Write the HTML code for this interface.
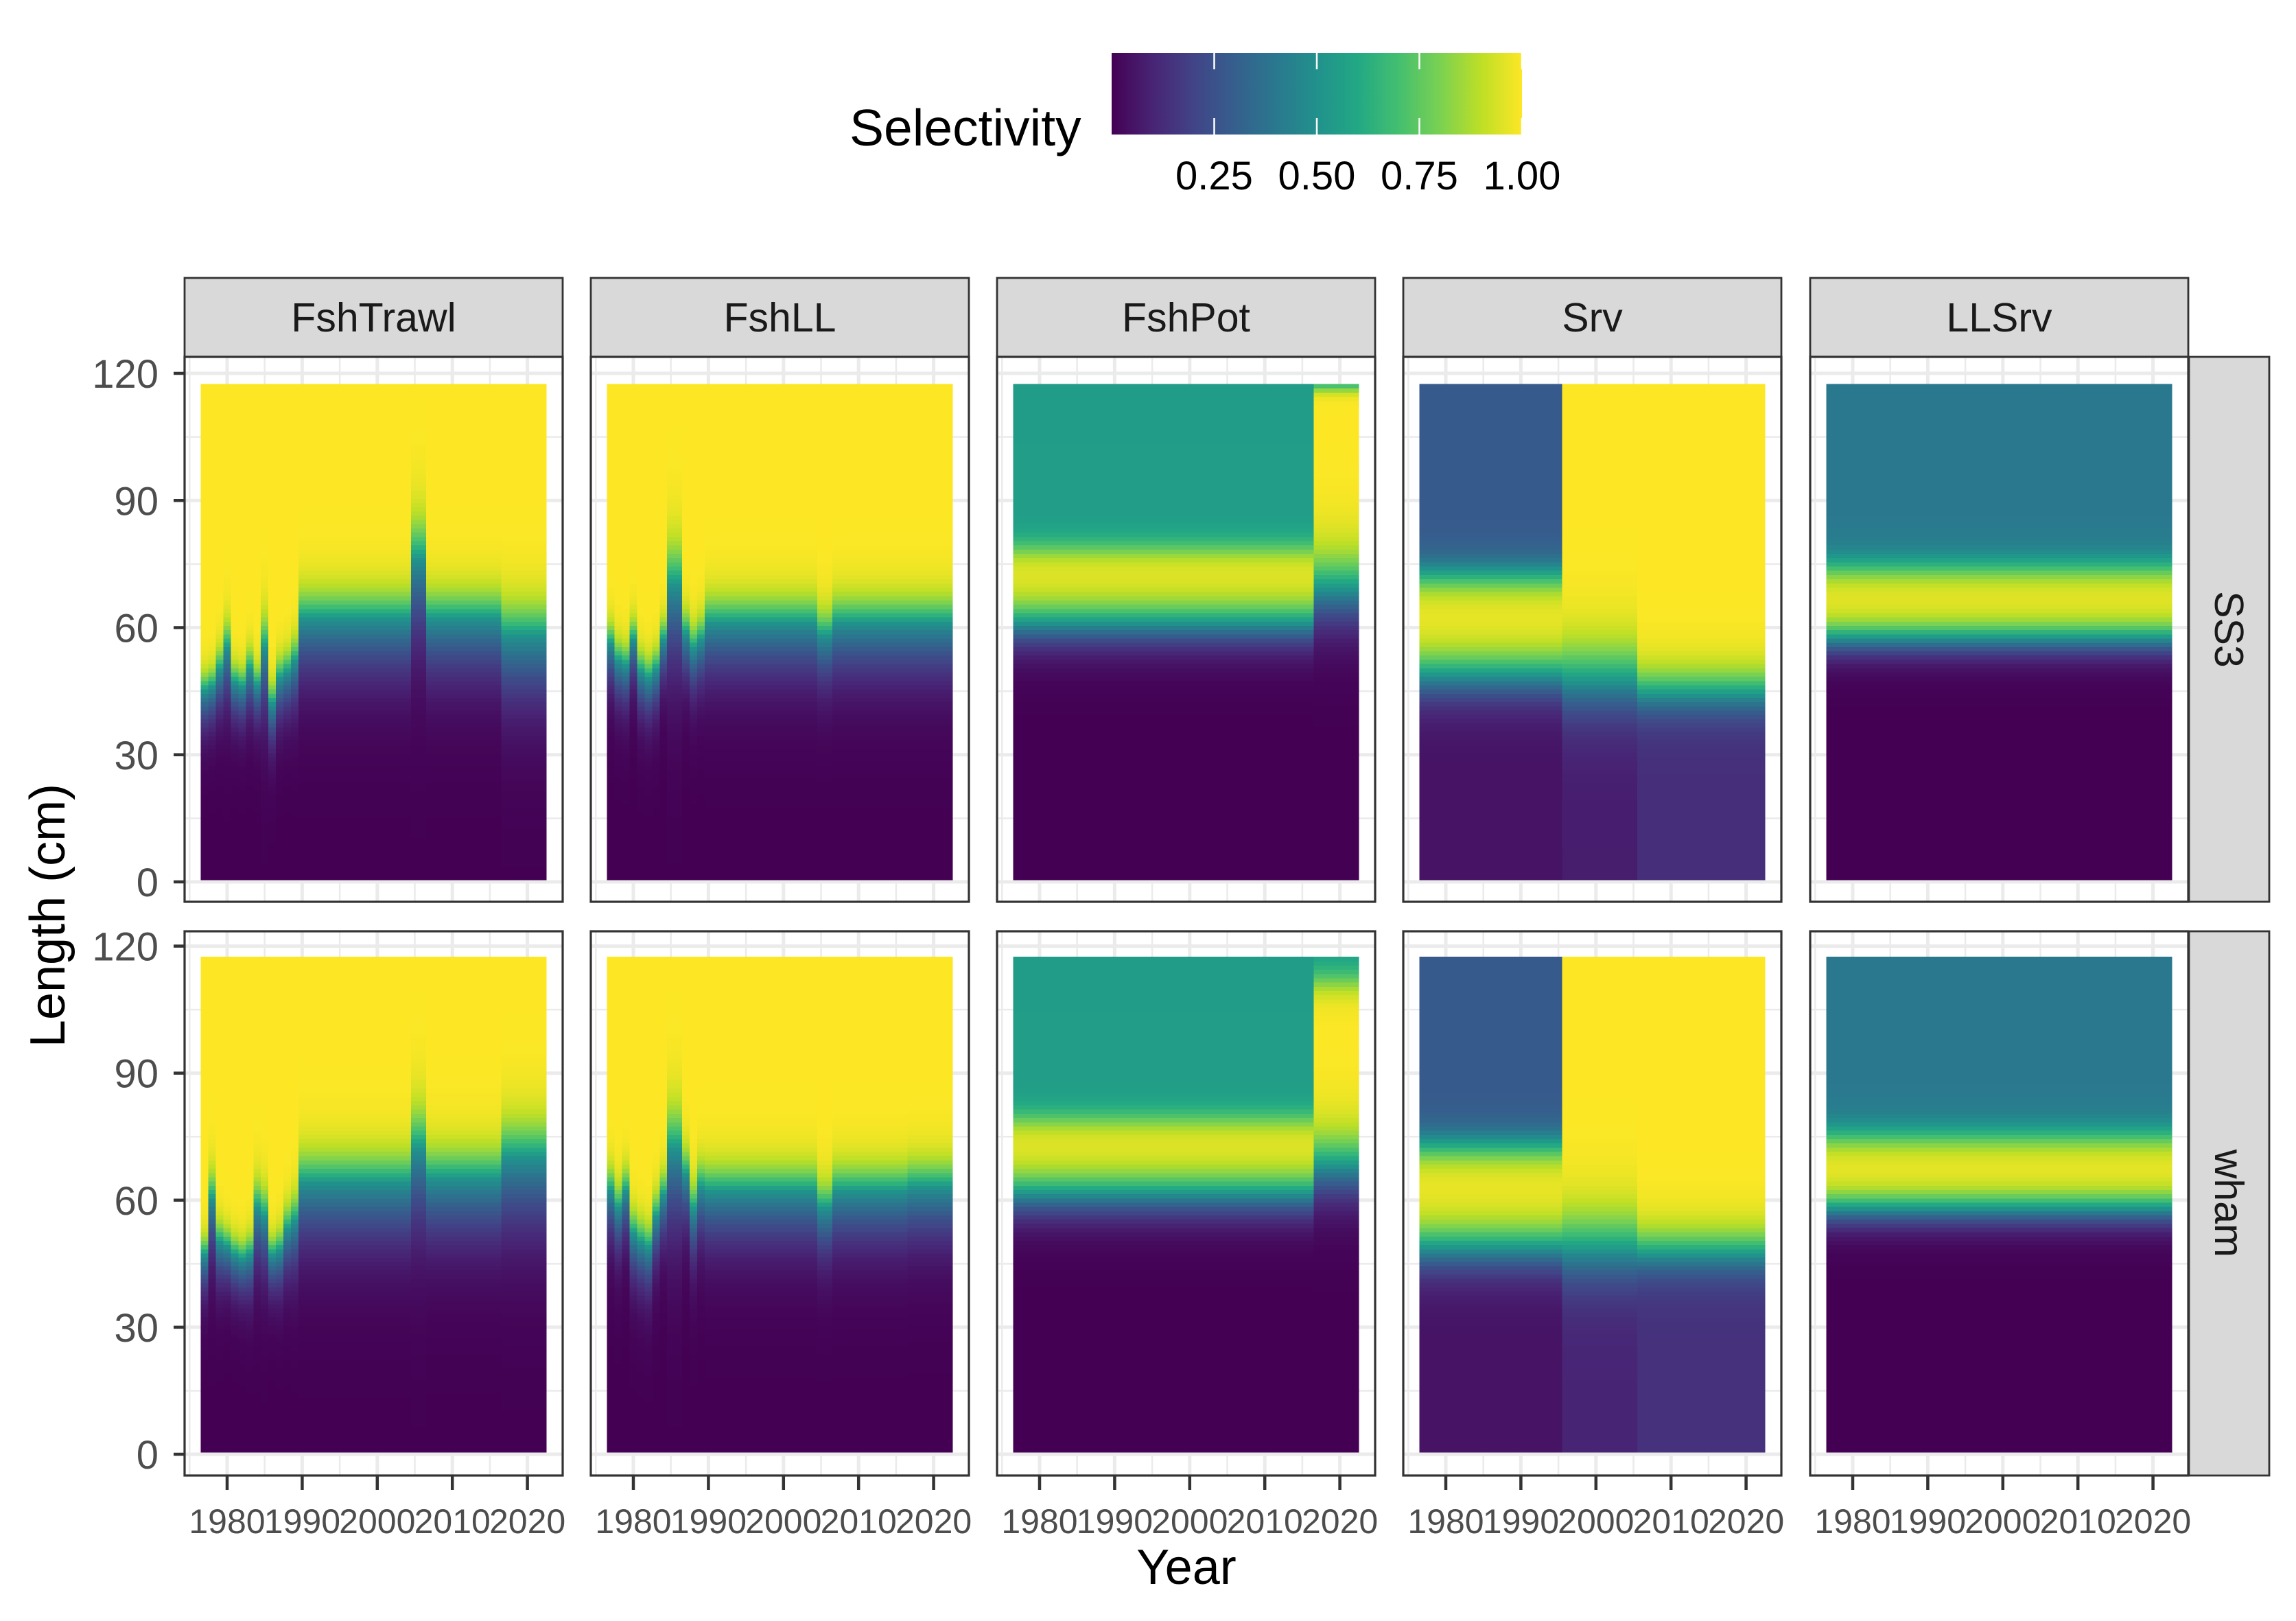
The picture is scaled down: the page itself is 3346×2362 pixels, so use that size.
<!DOCTYPE html>
<html><head><meta charset="utf-8"><title>Selectivity heatmaps</title>
<style>
html,body{margin:0;padding:0;background:#fff;}
svg{display:block;font-family:"Liberation Sans",Arial,sans-serif;}
</style></head>
<body>
<svg id="chart" xmlns="http://www.w3.org/2000/svg" width="3346" height="2362" viewBox="0 0 3346 2362">
<rect x="0" y="0" width="3346" height="2362" fill="#fff"/>
<defs>
<linearGradient id="vir" x1="0" x2="1" y1="0" y2="0">
<stop offset="0" stop-color="#440154"/><stop offset="0.1" stop-color="#482475"/><stop offset="0.2" stop-color="#414487"/><stop offset="0.3" stop-color="#355f8d"/><stop offset="0.4" stop-color="#2a788e"/><stop offset="0.5" stop-color="#21918c"/><stop offset="0.6" stop-color="#22a884"/><stop offset="0.7" stop-color="#44bf70"/><stop offset="0.8" stop-color="#7ad151"/><stop offset="0.9" stop-color="#bddf26"/><stop offset="1" stop-color="#fde725"/>
</linearGradient>
</defs>
<g>
<text x="1238" y="212" font-size="75" fill="#000">Selectivity</text>
<rect x="1620" y="77" width="598" height="119" fill="url(#vir)"/>
<g id="legendTicks"></g>
</g>
<g id="panels"></g>
<text x="1729" y="2308" font-size="72" text-anchor="middle" fill="#000">Year</text>
<text x="0" y="0" font-size="72" text-anchor="middle" fill="#000" transform="translate(94,1334) rotate(-90)">Length (cm)</text>
</svg>
<script>
// ---------- data (block start years and per-block selectivity parameters) ----------
const years = [1977, 2022];
const lengthBins = [1, 117];
const facetCols = ["FshTrawl", "FshLL", "FshPot", "Srv", "LLSrv"];
const facetRows = ["SS3", "wham"];
const xTicks = [1980, 1990, 2000, 2010, 2020];
const yTicks = [0, 30, 60, 90, 120];
const legendTicks = [0.25, 0.5, 0.75, 1.0];
const legendLabels = ["0.25", "0.50", "0.75", "1.00"];
// ratio of upper-limb to lower-limb steepness for fishery logistic curves
const fisheryUpperSteepness = [1.9];

// FshTrawl SS3
const trawlSS3_start = [1977,1978,1979,1980,1981,1982,1983,1984,1985,1986,1987,1988,1989,1990,2005,2007,2017];
const trawlSS3_a50 = [45,46,50,55,47,46,50,46.5,55,42,48,49.5,52,62,76,62,58];
const trawlSS3_k = [0.22,0.22,0.2,0.16,0.22,0.22,0.2,0.22,0.13,0.2,0.2,0.2,0.18,0.14,0.1,0.14,0.12];
// FshTrawl wham
const trawlWham_start = [1977,1978,1979,1980,1981,1982,1983,1984,1985,1986,1987,1988,1989,1990,2005,2007,2017];
const trawlWham_a50 = [47,60,50,49,47,46,47,58,56,47,48,53,55,64,72,65,70];
const trawlWham_k = [0.22,0.15,0.2,0.22,0.22,0.22,0.2,0.15,0.15,0.22,0.2,0.18,0.16,0.13,0.1,0.13,0.11];
// FshLL SS3
const llSS3_start = [1977,1978,1979,1980,1981,1982,1983,1984,1985,1987,1988,1989,1990,2005,2007];
const llSS3_a50 = [56,52,51,57,49.5,48,50,57,70,58.5,55,57,61,58,61];
const llSS3_k = [0.2,0.2,0.2,0.2,0.2,0.2,0.2,0.2,0.1,0.18,0.18,0.18,0.15,0.16,0.15];
// FshLL wham
const llWham_start = [1977,1978,1979,1980,1981,1982,1983,1984,1985,1987,1988,1989,1990,2005,2007,2017];
const llWham_a50 = [62,58,62,52,50,48.7,56,61,72,66,57.7,63,62,58,62,63];
const llWham_k = [0.18,0.18,0.18,0.18,0.18,0.18,0.18,0.18,0.1,0.16,0.16,0.16,0.15,0.16,0.15,0.15];
// FshPot
const potSS3_start = [1977, 2017];
const potSS3_a50 = [61, 69];
const potSS3_k = [0.3, 0.2];
const potSS3_d50 = [78.5, 116.5];
const potSS3_dk = [0.5, 1.2];
const potSS3_fin = [0.55, 0.55];
const potWham_start = [1977, 2017];
const potWham_a50 = [61.5, 68];
const potWham_k = [0.3, 0.22];
const potWham_d50 = [79, 112];
const potWham_dk = [0.5, 0.45];
const potWham_fin = [0.55, 0.55];
// Srv
const srvSS3_start = [1977, 1996, 2006];
const srvSS3_a50 = [49, 48, 45];
const srvSS3_k = [0.28, 0.2, 0.3];
const srvSS3_d50 = [72, 999, 999];
const srvSS3_dk = [0.4, 0.4, 0.4];
const srvSS3_fin = [0.28, 1, 1];
const srvSS3_floor = [0.05, 0.08, 0.13];
const srvWham_start = [1977, 1996, 2006];
const srvWham_a50 = [49, 49, 48];
const srvWham_k = [0.28, 0.2, 0.3];
const srvWham_d50 = [72.5, 999, 999];
const srvWham_dk = [0.4, 0.4, 0.4];
const srvWham_fin = [0.28, 1, 1];
const srvWham_floor = [0.05, 0.1, 0.14];
// LLSrv
const llsrvSS3_start = [1977];
const llsrvSS3_a50 = [57.5];
const llsrvSS3_k = [0.4];
const llsrvSS3_d50 = [74];
const llsrvSS3_dk = [0.45];
const llsrvSS3_fin = [0.4];
const llsrvWham_start = [1977];
const llsrvWham_a50 = [58];
const llsrvWham_k = [0.4];
const llsrvWham_d50 = [75];
const llsrvWham_dk = [0.45];
const llsrvWham_fin = [0.4];

// ---------- layout ----------
const NS = "http://www.w3.org/2000/svg";
const panelLefts = [269, 861, 1453, 2045, 2638];
const panelW = 551;
const rowTop = [520, 1357], rowBot = [1314, 2150];
const yZero = [1285, 2119], yPx = [6.175, 6.17];
const stripTop = 405;
const viridis = ["#440154","#482475","#414487","#355f8d","#2a788e","#21918c","#22a884","#44bf70","#7ad151","#bddf26","#fde725"];

function hex(c){return [parseInt(c.substr(1,2),16),parseInt(c.substr(3,2),16),parseInt(c.substr(5,2),16)];}
const virRGB = viridis.map(hex);
function color(v){
  v = Math.max(0, Math.min(1, v));
  const p = v*10, i = Math.min(9, Math.floor(p)), f = p - i;
  const a = virRGB[i], b = virRGB[i+1];
  return "rgb(" + [0,1,2].map(j => Math.round(a[j] + (b[j]-a[j])*f)).join(",") + ")";
}
function xScale(col, yr){ return panelLefts[col] + 62 + (yr - 1980) * 10.94; }
function yScale(row, cm){ return yZero[row] - yPx[row] * cm; }
function sel(L, p){
  const k = (L > p.a50) ? p.k * p.up : p.k;
  const asc = p.floor + (1 - p.floor) / (1 + Math.exp(-k * (L - p.a50)));
  const desc = p.fin + (1 - p.fin) / (1 + Math.exp(p.dk * (L - p.d50)));
  return asc * desc;
}
function mk(tag, attrs, parent){
  const el = document.createElementNS(NS, tag);
  for (const k in attrs) el.setAttribute(k, attrs[k]);
  parent.appendChild(el);
  return el;
}
function pick(arr, i, def){ return arr ? arr[i] : def; }

const panelData = [
  [{s:trawlSS3_start,a:trawlSS3_a50,k:trawlSS3_k,up:fisheryUpperSteepness[0]},{s:trawlWham_start,a:trawlWham_a50,k:trawlWham_k,up:fisheryUpperSteepness[0]}],
  [{s:llSS3_start,a:llSS3_a50,k:llSS3_k,up:fisheryUpperSteepness[0]},{s:llWham_start,a:llWham_a50,k:llWham_k,up:fisheryUpperSteepness[0]}],
  [{s:potSS3_start,a:potSS3_a50,k:potSS3_k,d:potSS3_d50,dk:potSS3_dk,f:potSS3_fin},{s:potWham_start,a:potWham_a50,k:potWham_k,d:potWham_d50,dk:potWham_dk,f:potWham_fin}],
  [{s:srvSS3_start,a:srvSS3_a50,k:srvSS3_k,d:srvSS3_d50,dk:srvSS3_dk,f:srvSS3_fin,fl:srvSS3_floor},{s:srvWham_start,a:srvWham_a50,k:srvWham_k,d:srvWham_d50,dk:srvWham_dk,f:srvWham_fin,fl:srvWham_floor}],
  [{s:llsrvSS3_start,a:llsrvSS3_a50,k:llsrvSS3_k,d:llsrvSS3_d50,dk:llsrvSS3_dk,f:llsrvSS3_fin},{s:llsrvWham_start,a:llsrvWham_a50,k:llsrvWham_k,d:llsrvWham_d50,dk:llsrvWham_dk,f:llsrvWham_fin}]
];

const root = document.getElementById("panels");

// legend ticks
const lt = document.getElementById("legendTicks");
legendTicks.forEach((v, i) => {
  const x = 1620 + v * 598;
  const t1 = mk("line", {x1:x, x2:x, y1:77, y2:101, stroke:"#fff", "stroke-width":2.5}, lt);
  
  
  const t2 = mk("line", {x1:x, x2:x, y1:172, y2:196, stroke:"#fff", "stroke-width":2.5}, lt);
  
  
  const tx = mk("text", {x: Math.min(x, 2218), y: 276, "font-size": 58, "text-anchor": "middle", fill: "#000"}, lt);
  tx.textContent = legendLabels[i];
  
  
});

for (let c = 0; c < 5; c++) {
  const L = panelLefts[c];
  const st = mk("rect", {x:L, y:stripTop, width:panelW, height:rowTop[0]-stripTop, fill:"#d9d9d9", stroke:"#333", "stroke-width":2.8}, root);
  
  
  const stt = mk("text", {x:L+panelW/2, y:483, "font-size":59, "text-anchor":"middle", fill:"#1a1a1a"}, root);
  stt.textContent = facetCols[c];
  
  

  for (let r = 0; r < 2; r++) {
    const g = mk("g", {}, root);
    
    
    const T = rowTop[r], B = rowBot[r];
    const bg = mk("rect", {x:L, y:T, width:panelW, height:B-T, fill:"#fff"}, g);
    
    
    for (let yr = 1975; yr <= 2025; yr += 10) {
      const x = xScale(c, yr);
      if (x < L || x > L + panelW) continue;
      const gl = mk("line", {x1:x, x2:x, y1:T, y2:B, stroke:"#ebebeb", "stroke-width":2.5}, g);
      
      
    }
    for (let cm = 15; cm <= 105; cm += 30) {
      const y = yScale(r, cm);
      const gl = mk("line", {x1:L, x2:L+panelW, y1:y, y2:y, stroke:"#ebebeb", "stroke-width":2.5}, g);
      
      
    }
    xTicks.forEach(yr => {
      const x = xScale(c, yr);
      const gl = mk("line", {x1:x, x2:x, y1:T, y2:B, stroke:"#ebebeb", "stroke-width":5}, g);
      
      
    });
    yTicks.forEach(cm => {
      const y = yScale(r, cm);
      const gl = mk("line", {x1:L, x2:L+panelW, y1:y, y2:y, stroke:"#ebebeb", "stroke-width":5}, g);
      
      
    });
    const d = panelData[c][r];
    const tiles = mk("g", {"shape-rendering":"crispEdges"}, g);
    
    
    for (let b = 0; b < d.s.length; b++) {
      const y0 = d.s[b];
      const y1 = (b + 1 < d.s.length) ? d.s[b+1] - 1 : years[1];
      const p = {a50:d.a[b], k:d.k[b], up:(d.up || 1), d50:pick(d.d,b,999), dk:pick(d.dk,b,0.5), fin:pick(d.f,b,1), floor:pick(d.fl,b,0)};
      const xa = xScale(c, y0 - 0.5), xb = xScale(c, y1 + 0.5);
      for (let len = lengthBins[0]; len <= lengthBins[1]; len++) {
        const ya = yScale(r, len + 0.5), yb = yScale(r, len - 0.5);
        const cell = mk("rect", {x:xa.toFixed(2), y:ya.toFixed(2), width:(xb-xa+0.6).toFixed(2), height:(yb-ya+0.6).toFixed(2), fill:color(sel(len, p))}, tiles);
        
        
      }
    }
    const bd = mk("rect", {x:L, y:T, width:panelW, height:B-T, fill:"none", stroke:"#333", "stroke-width":3.2}, g);
    
    

    if (c === 0) {
      yTicks.forEach(cm => {
        const y = yScale(r, cm);
        const tk = mk("line", {x1:L-16, x2:L, y1:y, y2:y, stroke:"#333", "stroke-width":4.5}, root);
        
        
        const tl = mk("text", {x:L-38, y:y+21, "font-size":58, "text-anchor":"end", fill:"#4d4d4d"}, root);
        tl.textContent = String(cm);
        
        
      });
    }
    if (r === 1) {
      xTicks.forEach(yr => {
        const x = xScale(c, yr);
        const tk = mk("line", {x1:x, x2:x, y1:B, y2:B+21, stroke:"#333", "stroke-width":4.5}, root);
        
        
        const tl = mk("text", {x:x, y:2234, "font-size":50, "text-anchor":"middle", fill:"#4d4d4d"}, root);
        tl.textContent = String(yr);
        
        
      });
    }
  }
}
for (let r = 0; r < 2; r++) {
  const T = rowTop[r], B = rowBot[r];
  const rs = mk("rect", {x:3190, y:T, width:117, height:B-T, fill:"#d9d9d9", stroke:"#333", "stroke-width":2.8}, root);
  
  
  const cy = (T + B) / 2;
  const rt = mk("text", {x:0, y:0, "font-size":59, "text-anchor":"middle", fill:"#1a1a1a", transform:"translate(3228," + cy + ") rotate(90)"}, root);
  rt.textContent = facetRows[r];
  
  
}
</script>
</body></html>
